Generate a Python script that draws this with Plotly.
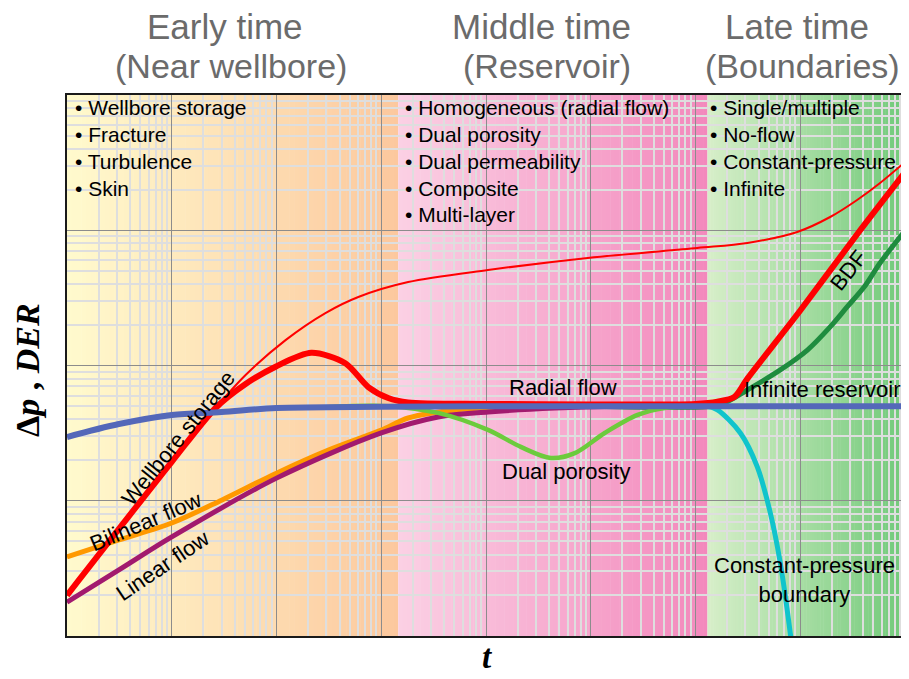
import plotly.graph_objects as go

# ---------------- data (t, value) ----------------
t_inf = [1, 3.13, 10, 29.9, 100, 1000, 1e4, 1e5, 1e6, 1e7, 1e8]
y_inf = [29.6, 36.9, 43.1, 45.3, 48.5, 49.5, 50, 50, 50, 50, 50]

t_der = [1, 10, 26.2, 50.7, 98, 215, 454, 752, 1166, 1807, 1e4, 1e5, 1e6,
         1.62e6, 2.35e6, 3.13e6, 1e7, 3.73e7, 9.78e7]
y_der = [2.0, 19.4, 48.5, 73, 98, 124, 104, 69.3, 57.5, 53.2, 52, 51.5, 52,
         54, 58.5, 80, 255, 1000, 2630]

t_p = [1, 10, 26.2, 50.7, 122, 293, 604, 1807, 1.045e4, 9.36e4, 1.04e6, 3.13e6,
       9.36e6, 1.93e7, 3.49e7, 5.78e7, 9.78e7]
y_p = [2.0, 19.4, 48.5, 85.1, 154, 244, 321, 414, 508, 624, 739, 805,
       971, 1253, 1674, 2235, 3143]

t_bl = [1, 3.13, 10, 29.9, 100, 313, 1000, 1807, 5070, 3.89e4, 1e6]
y_bl = [3.84, 5.13, 6.85, 10.1, 16.0, 23.7, 33.3, 40.9, 46.9, 50, 50]

t_lin = [1, 3.13, 10, 100, 1000, 3490, 1.045e4, 4.54e4, 1.8e5, 1e6]
y_lin = [1.78, 3.08, 5.4, 14.7, 31.7, 41.6, 45.3, 48.5, 50, 50]

t_dp = [300, 1166, 3490, 1.045e4, 2.15e4, 4.16e4, 7.04e4, 1.36e5, 2.8e5, 5.07e5, 1.05e6]
y_dp = [49.2, 50, 44.6, 33.4, 25.0, 20.7, 22.5, 31.7, 43.1, 48.5, 50]

t_cp = [1e5, 1.3e6, 1.62e6, 2.68e6, 3.89e6, 5.18e6, 6.45e6, 8.03e6, 9e6]
y_cp = [50, 50, 46.9, 31.7, 17.8, 8.12, 3.47, 1.05, 0.5]

t_nf = [1e5, 1.45e6, 1.89e6, 3.13e6, 6.45e6, 1.17e7, 1.93e7, 2.8e7, 4.07e7, 5.78e7, 9.78e7]
y_nf = [50, 50, 52.8, 65.9, 92.7, 130, 193, 271, 380, 573, 971]

titles_top = ["Early time", "Middle time", "Late time"]
titles_sub = ["(Near wellbore)", "(Reservoir)", "(Boundaries)"]
early_items = ["Wellbore storage", "Fracture", "Turbulence", "Skin"]
middle_items = ["Homogeneous (radial flow)", "Dual porosity", "Dual permeability",
                "Composite", "Multi-layer"]
late_items = ["Single/multiple", "No-flow", "Constant-pressure", "Infinite"]

# ---------------- figure ----------------
fig = go.Figure()

def add_line(t, y, color, width, smoothing=0.9):
    fig.add_trace(go.Scatter(x=t, y=y, mode="lines",
                             line=dict(color=color, width=width, shape="spline",
                                       smoothing=smoothing),
                             hoverinfo="skip", showlegend=False))

add_line(t_nf, y_nf, "#1f8c3f", 5)
add_line(t_bl, y_bl, "#ff9900", 5)
add_line(t_lin, y_lin, "#a21a6e", 5)
add_line(t_dp, y_dp, "#6ccb3c", 4.5)
add_line(t_cp, y_cp, "#10c4cc", 5)
add_line(t_p, y_p, "#ff0000", 2)
add_line(t_der, y_der, "#ff0000", 6, 0.8)
add_line(t_inf, y_inf, "#5468b9", 6)

# background gradients (paper coordinates)
regions = [
    (0.0, 0.3952, (255, 250, 205), (252, 200, 158)),
    (0.3952, 0.7643, (251, 208, 228), (243, 137, 188)),
    (0.7643, 1.0, (214, 238, 200), (114, 202, 122)),
]
shapes = []
N = 70
for x0, x1, c0, c1 in regions:
    w = (x1 - x0) / N
    for i in range(N):
        f = i / (N - 1)
        c = tuple(round(c0[k] + (c1[k] - c0[k]) * f) for k in range(3))
        shapes.append(dict(type="rect", xref="paper", yref="paper",
                           x0=x0 + i * w, x1=min(x1, x0 + (i + 1) * w + 0.0006),
                           y0=0, y1=1, line=dict(width=0),
                           fillcolor="rgb(%d,%d,%d)" % c, layer="below"))

minor_x = [m * 10 ** k for k in range(0, 8) for m in range(2, 10)]
minor_y = [m * 10 ** k for k in range(0, 4) for m in range(2, 10)]

axis_common = dict(type="log", showticklabels=False, ticks="", tickmode="linear",
                   tick0=0, dtick=1, showgrid=True, gridcolor="#8c8c8c", gridwidth=1.3,
                   showline=True, linecolor="#1a1a1a", linewidth=2, mirror=True,
                   zeroline=False)

# the page body adds an 8 px offset, so the figure is 8 px smaller
fig.update_layout(
    width=901, height=671,
    margin=dict(l=59, r=2, t=87, b=43),
    paper_bgcolor="white", plot_bgcolor="rgba(0,0,0,0)",
    shapes=shapes,
    xaxis=dict(range=[0, 8], minor=dict(tickvals=minor_x, showgrid=True,
                                        gridcolor="#dedede", gridwidth=1.5), **axis_common),
    yaxis=dict(range=[0, 4], minor=dict(tickvals=minor_y, showgrid=True,
                                        gridcolor="#dedede", gridwidth=1.5), **axis_common),
    font=dict(family="Liberation Sans, Arial, sans-serif", color="black"),
)

ann = []
PX0, PW, PY1, PH = 67, 840, 636, 541

def px(x):
    return (x - PX0) / PW

def py(y):
    return (PY1 - y) / PH

def add_text(text, x, y, size, color="black", angle=0, xanchor="center",
             yanchor="middle", family=None):
    d = dict(text=text, x=px(x), y=py(y), xref="paper", yref="paper",
             showarrow=False, textangle=angle, xanchor=xanchor, yanchor=yanchor,
             font=dict(size=size, color=color))
    if family:
        d["font"]["family"] = family
    ann.append(d)

for txt, sub, cx, cx2 in zip(titles_top, titles_sub, [225, 543, 799], [231, 548, 804]):
    add_text(txt, cx, 27, 35, "#6b6b6b")
    add_text(sub, cx2, 66, 34, "#6b6b6b")

for items, x0 in [(early_items, 73), (middle_items, 404), (late_items, 710)]:
    for i, it in enumerate(items):
        add_text("• " + it, x0, 108 + i * 26.7, 21, xanchor="left")

add_text("Wellbore storage", 178, 438, 22, angle=-51)
add_text("Bilinear flow", 146, 521, 22, angle=-23)
add_text("Linear flow", 163, 565, 22, angle=-34)
add_text("Radial flow", 564, 387, 22)
add_text("Dual porosity", 567, 472, 22)
add_text("Infinite reservoir", 824, 389, 22)
add_text("BDF", 850, 270, 22, angle=-52)
add_text("Constant-pressure<br>boundary", 806, 580, 22)

add_text("<b>Δ<i>p</i> , <i>DER</i></b>", 27, 370, 34, angle=-90,
         family="Liberation Serif, Times New Roman, serif")
add_text("<b><i>t</i></b>", 488, 677, 33, yanchor="bottom",
         family="Liberation Serif, Times New Roman, serif")

fig.update_layout(annotations=ann)

fig.write_html("out.html")
